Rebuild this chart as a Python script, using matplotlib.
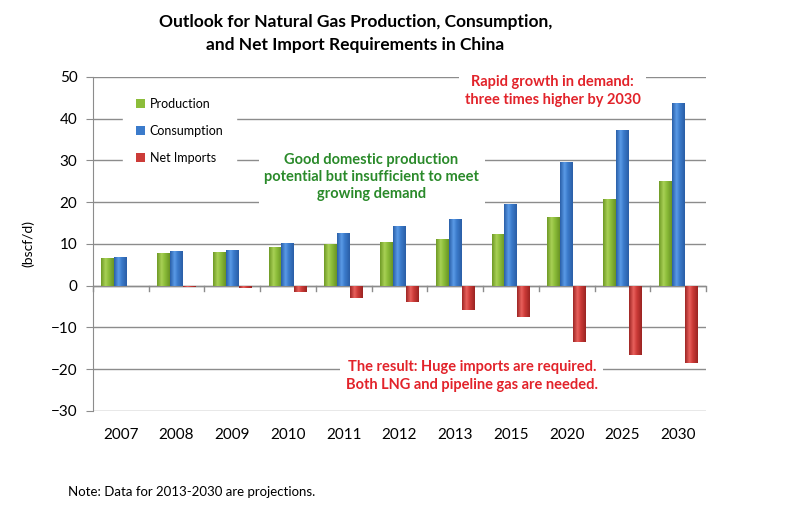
import numpy as np
import matplotlib
matplotlib.use("Agg")
import matplotlib.pyplot as plt
from matplotlib.colors import LinearSegmentedColormap

plt.rcParams['font.family'] = ['Lato', 'DejaVu Sans']

years = ["2007", "2008", "2009", "2010", "2011", "2012", "2013", "2015", "2020", "2025", "2030"]
production = [6.7, 7.8, 8.1, 9.3, 10.0, 10.5, 11.2, 12.4, 16.5, 20.8, 25.1]
consumption = [6.8, 8.4, 8.6, 10.2, 12.7, 14.4, 15.9, 19.6, 29.5, 37.4, 43.8]
net_imports = [-0.1, -0.2, -0.5, -1.4, -2.9, -4.0, -5.9, -7.4, -13.4, -16.7, -18.4]

fig = plt.figure(figsize=(8, 5.16), dpi=100)
ax = fig.add_axes([0.116, 0.2035, 0.7665, 0.6475])

x = np.arange(len(years))
w = 0.23
series = [
    (production, -w, 'Production', ['#6f9a26', '#a8d055', '#8cbd3a', '#6a9424']),
    (consumption, 0, 'Consumption', ['#2a5fa8', '#5a9ae6', '#3b7bcb', '#2a5ea6']),
    (net_imports, w, 'Net Imports', ['#9e2624', '#e8605c', '#cc3b38', '#9a2422']),
]
# cylinder-like shading: a horizontal gradient clipped to each bar
grad = np.linspace(0, 1, 64).reshape(1, -1)
for vals, off, lab, cols in series:
    cmap = LinearSegmentedColormap.from_list(lab, list(zip([0, 0.35, 0.6, 1], cols)))
    bars = ax.bar(x + off, vals, w, color=cols[2], label=lab, zorder=3)
    for b in bars:
        x0, y0 = b.get_x(), b.get_y()
        bw, bh = b.get_width(), b.get_height()
        im = ax.imshow(grad, cmap=cmap, aspect='auto', zorder=3.1,
                       extent=[x0, x0 + bw, min(y0, y0 + bh), max(y0, y0 + bh)])
        im.set_clip_path(b)

ax.set_xlim(-0.5, len(years) - 0.5)
ax.set_ylim(-30, 50)
ax.set_yticks(range(-30, 51, 10))
ax.yaxis.grid(True, color='#8c8c8c', linewidth=1, zorder=0)
ax.set_axisbelow(True)
for s in ['top', 'right', 'bottom']:
    ax.spines[s].set_visible(False)
ax.spines['left'].set_color('#8c8c8c')
ax.tick_params(axis='y', length=5, color='#8c8c8c', labelsize=11, pad=6)
ax.tick_params(axis='x', length=0, labelsize=11, pad=12)
ax.set_xticks(x)
ax.set_xticklabels(years)

# zero axis with category separators
ax.axhline(0, color='#8c8c8c', linewidth=1, zorder=2)
for b in np.arange(-0.5, len(years), 1.0):
    ax.plot([b, b], [0, -1.3], color='#8c8c8c', linewidth=1, zorder=2, clip_on=False)

ax.set_ylabel('(bscf/d)', fontsize=10, labelpad=12)

fig.text(0.444, 0.935, 'Outlook for Natural Gas Production, Consumption,\nand Net Import Requirements in China',
         ha='center', va='center', fontsize=12.5, fontweight='bold', linespacing=1.55)

leg = ax.legend(loc='upper left', bbox_to_anchor=(0.05, 0.975), frameon=True, fontsize=9,
                handlelength=0.7, handleheight=0.7, handletextpad=0.4, labelspacing=1.2,
                borderpad=1.0, borderaxespad=0)
leg.get_frame().set_facecolor('white')
leg.get_frame().set_edgecolor('white')
leg.get_frame().set_alpha(1)
leg.set_zorder(4)

box = dict(facecolor='white', edgecolor='none', pad=4)
ax.text(7.75, 46.6, 'Rapid growth in demand:\nthree times higher by 2030', ha='center', va='center',
        color='#e2232a', fontsize=10.5, fontweight='bold', linespacing=1.35, bbox=box, zorder=4)
ax.text(4.5, 26.0, 'Good domestic production\npotential but insufficient to meet\ngrowing demand',
        ha='center', va='center', color='#2a8a2a', fontsize=10.5, fontweight='bold',
        linespacing=1.3, bbox=box, zorder=4)
ax.text(6.3, -21.7, 'The result: Huge imports are required.\nBoth LNG and pipeline gas are needed.',
        ha='center', va='center', color='#e2232a', fontsize=10.5, fontweight='bold',
        linespacing=1.35, bbox=box, zorder=4)

fig.text(0.085, 0.046, 'Note: Data for 2013-2030 are projections.', fontsize=9.5, va='center')

fig.savefig('out.png', dpi=100)
